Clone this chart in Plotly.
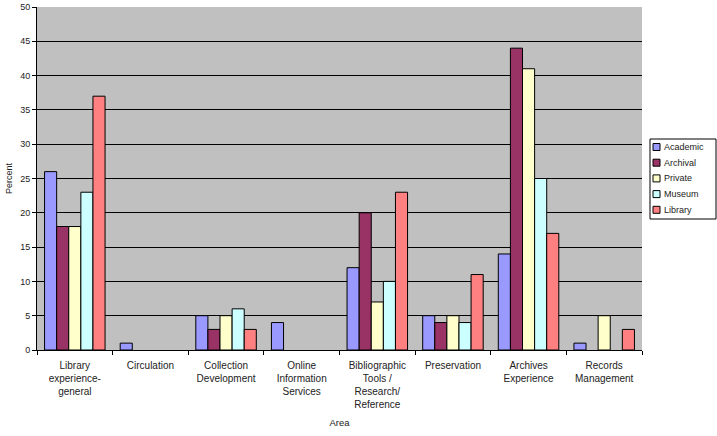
import plotly.graph_objects as go

categories = [
    "Library<br>experience-<br>general",
    "Circulation",
    "Collection<br>Development",
    "Online<br>Information<br>Services",
    "Bibliographic<br>Tools /<br>Research/<br>Reference",
    "Preservation",
    "Archives<br>Experience",
    "Records<br>Management",
]
series_names = ["Academic", "Archival", "Private", "Museum", "Library"]
academic = [26, 1, 5, 4, 12, 5, 14, 1]
archival = [18, 0, 3, 0, 20, 4, 44, 0]
private = [18, 0, 5, 0, 7, 5, 41, 5]
museum = [23, 0, 6, 0, 10, 4, 25, 0]
library = [37, 0, 3, 0, 23, 11, 17, 3]
colors = ["#9999FF", "#993366", "#FFFFCC", "#CCFFFF", "#FF8080"]
y_ticks = [0, 5, 10, 15, 20, 25, 30, 35, 40, 45, 50]

W, H = 717, 436
ML, MR, MT, MB = 37, 75, 7, 86
PW, PH = W - ML - MR, H - MT - MB


def px_x(px):
    return (px - ML) / PW


def px_y(py):
    return (H - MB - py) / PH


fig = go.Figure()
for name, vals, col in zip(series_names, [academic, archival, private, museum, library], colors):
    fig.add_trace(go.Bar(
        x=categories, y=vals, name=name,
        marker=dict(color=col,
                    line=dict(color="black", width=[1 if v else 0 for v in vals])),
    ))

txt = "#222222"
font = dict(family="Liberation Sans, Arial, sans-serif", size=9, color=txt)

# custom compact legend (Excel style)
shapes = [dict(type="rect", xref="paper", yref="paper",
               x0=px_x(650), x1=px_x(716), y0=px_y(219), y1=px_y(139),
               line=dict(color="black", width=1), fillcolor="white", layer="above")]
annotations = []
for i, (name, col) in enumerate(zip(series_names, colors)):
    cy = 147 + i * 15.7
    shapes.append(dict(type="rect", xref="paper", yref="paper",
                       x0=px_x(653), x1=px_x(660), y0=px_y(cy + 3.5), y1=px_y(cy - 3.5),
                       line=dict(color="black", width=1), fillcolor=col, layer="above"))
    annotations.append(dict(text=name, xref="paper", yref="paper",
                            x=px_x(662), y=px_y(cy), xanchor="left", yanchor="middle",
                            showarrow=False, font=dict(size=9, color=txt)))

fig.update_layout(
    width=W, height=H,
    margin=dict(l=ML, r=MR, t=MT, b=MB, autoexpand=False),
    paper_bgcolor="white",
    plot_bgcolor="#C0C0C0",
    barmode="group",
    bargap=0.2,
    bargroupgap=0,
    font=font,
    showlegend=False,
    shapes=shapes,
    annotations=annotations,
    xaxis=dict(
        title=dict(text="Area", font=dict(size=9.5), standoff=10),
        showgrid=False, showline=True, linecolor="black", linewidth=1,
        ticks="outside", ticklen=4, tickcolor="black", tickson="boundaries",
        tickangle=0, tickfont=dict(size=10), ticklabelstandoff=6,
        automargin=False,
    ),
    yaxis=dict(
        title=dict(text="Percent", font=dict(size=9), standoff=6),
        range=[0, 50], tickvals=y_ticks,
        showgrid=True, gridcolor="black", gridwidth=1.3,
        showline=True, linecolor="black", linewidth=1,
        ticks="outside", ticklen=4, tickcolor="black",
        tickfont=dict(size=9), zeroline=False, automargin=False,
    ),
)

fig.write_html("out.html")
